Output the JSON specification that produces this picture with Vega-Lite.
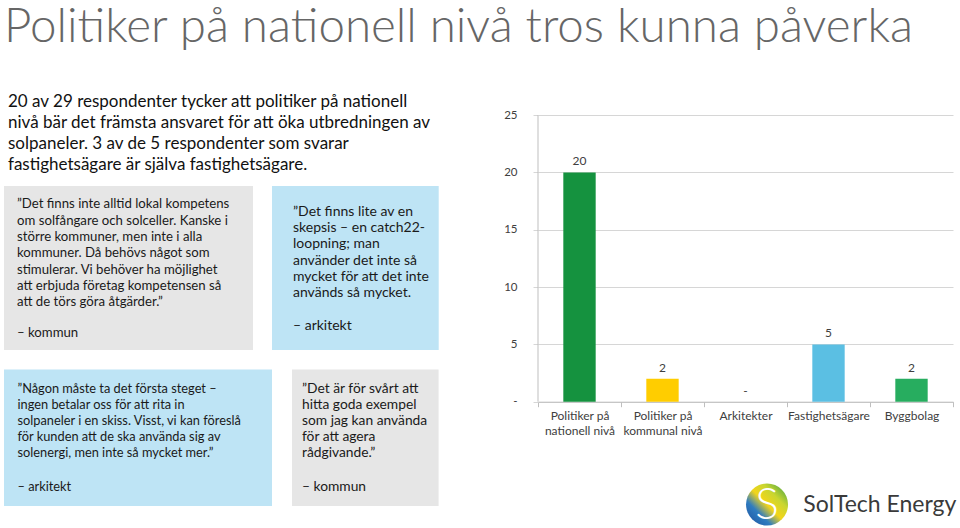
{
  "$schema": "https://vega.github.io/schema/vega-lite/v6.json",
  "padding": {"left": 4, "top": 4, "right": 0, "bottom": 0},
  "spacing": 63,
  "title": {"text": "Politiker på nationell nivå tros kunna påverka", "anchor": "start", "font": "Lato", "fontWeight": 300, "fontSize": 47.5, "color": "#666666", "offset": 41.5},
  "config": {"view": {"stroke": null}, "font": "Lato"},
  "datasets": {
    "texts": [
      {"id": "intro", "quote": "20 av 29 respondenter tycker att politiker på nationell\nnivå bär det främsta ansvaret för att öka utbredningen av\nsolpaneler. 3 av de 5 respondenter som svarar\nfastighetsägare är själva fastighetsägare.", "by": ""},
      {"id": "q1", "quote": "”Det finns inte alltid lokal kompetens\nom solfångare och solceller. Kanske i\nstörre kommuner, men inte i alla\nkommuner. Då behövs något som\nstimulerar. Vi behöver ha möjlighet\natt erbjuda företag kompetensen så\natt de törs göra åtgärder.”", "by": "– kommun"},
      {"id": "q2", "quote": "”Det finns lite av en\nskepsis – en catch22-\nloopning; man\nanvänder det inte så\nmycket för att det inte\nanvänds så mycket.", "by": "– arkitekt"},
      {"id": "q3", "quote": "”Någon måste ta det första steget –\ningen betalar oss för att rita in\nsolpaneler i en skiss. Visst, vi kan föreslå\nför kunden att de ska använda sig av\nsolenergi, men inte så mycket mer.”", "by": "– arkitekt"},
      {"id": "q4", "quote": "”Det är för svårt att\nhitta goda exempel\nsom jag kan använda\nför att agera\nrådgivande.”", "by": "– kommun"},
      {"id": "logo", "quote": "SolTech Energy", "by": ""}
    ],
    "bars": [
      {"cat": "Politiker på nationell nivå", "value": 20},
      {"cat": "Politiker på kommunal nivå", "value": 2},
      {"cat": "Arkitekter", "value": 0},
      {"cat": "Fastighetsägare", "value": 5},
      {"cat": "Byggbolag", "value": 2}
    ]
  },
  "hconcat": [
    {
      "spacing": 10.1,
      "vconcat": [
        {
          "width": 436, "height": 82,
          "data": {"name": "texts"},
          "transform": [{"filter": "datum.id === 'intro'"}],
          "mark": {"type": "text", "align": "left", "baseline": "alphabetic", "lineBreak": "\n", "fontSize": 17, "lineHeight": 21, "dx": 4, "dy": 13.4, "color": "#111111"},
          "encoding": {
            "x": {"datum": 0, "type": "quantitative", "scale": {"domain": [0, 1]}, "axis": null},
            "y": {"datum": 1, "type": "quantitative", "scale": {"domain": [0, 1]}, "axis": null},
            "text": {"field": "quote", "type": "nominal"}
          }
        },
        {
          "spacing": 19.3,
          "vconcat": [
            {
              "spacing": 19,
              "hconcat": [
                {
                  "width": 249, "height": 164,
                  "view": {"fill": "#e6e6e6", "stroke": null},
                  "data": {"name": "texts"},
                  "transform": [{"filter": "datum.id === 'q1'"}],
                  "encoding": {
                    "x": {"datum": 0, "type": "quantitative", "scale": {"domain": [0, 1]}, "axis": null},
                    "y": {"datum": 1, "type": "quantitative", "scale": {"domain": [0, 1]}, "axis": null}
                  },
                  "layer": [
                    {"mark": {"type": "text", "align": "left", "baseline": "alphabetic", "lineBreak": "\n", "fontSize": 13.2, "lineHeight": 16.3, "dx": 13, "dy": 22.3, "color": "#1a1a1a"},
                     "encoding": {"text": {"field": "quote", "type": "nominal"}}},
                    {"mark": {"type": "text", "align": "left", "baseline": "alphabetic", "fontSize": 13.2, "dx": 13, "dy": 150.5, "color": "#1a1a1a"},
                     "encoding": {"text": {"field": "by", "type": "nominal"}}}
                  ]
                },
                {
                  "width": 166.7, "height": 164,
                  "view": {"fill": "#bee4f5", "stroke": null},
                  "data": {"name": "texts"},
                  "transform": [{"filter": "datum.id === 'q2'"}],
                  "encoding": {
                    "x": {"datum": 0, "type": "quantitative", "scale": {"domain": [0, 1]}, "axis": null},
                    "y": {"datum": 1, "type": "quantitative", "scale": {"domain": [0, 1]}, "axis": null}
                  },
                  "layer": [
                    {"mark": {"type": "text", "align": "left", "baseline": "alphabetic", "lineBreak": "\n", "fontSize": 14, "lineHeight": 16.2, "dx": 21, "dy": 30, "color": "#1a1a1a"},
                     "encoding": {"text": {"field": "quote", "type": "nominal"}}},
                    {"mark": {"type": "text", "align": "left", "baseline": "alphabetic", "fontSize": 14, "dx": 21, "dy": 143.5, "color": "#1a1a1a"},
                     "encoding": {"text": {"field": "by", "type": "nominal"}}}
                  ]
                }
              ]
            },
            {
              "spacing": 20,
              "hconcat": [
                {
                  "width": 268, "height": 136.7,
                  "view": {"fill": "#bee4f5", "stroke": null},
                  "data": {"name": "texts"},
                  "transform": [{"filter": "datum.id === 'q3'"}],
                  "encoding": {
                    "x": {"datum": 0, "type": "quantitative", "scale": {"domain": [0, 1]}, "axis": null},
                    "y": {"datum": 1, "type": "quantitative", "scale": {"domain": [0, 1]}, "axis": null}
                  },
                  "layer": [
                    {"mark": {"type": "text", "align": "left", "baseline": "alphabetic", "lineBreak": "\n", "fontSize": 12.8, "lineHeight": 16.1, "dx": 13.5, "dy": 23.3, "color": "#1a1a1a"},
                     "encoding": {"text": {"field": "quote", "type": "nominal"}}},
                    {"mark": {"type": "text", "align": "left", "baseline": "alphabetic", "fontSize": 12.8, "dx": 13.5, "dy": 121.5, "color": "#1a1a1a"},
                     "encoding": {"text": {"field": "by", "type": "nominal"}}}
                  ]
                },
                {
                  "width": 146.6, "height": 136.7,
                  "view": {"fill": "#e6e6e6", "stroke": null},
                  "data": {"name": "texts"},
                  "transform": [{"filter": "datum.id === 'q4'"}],
                  "encoding": {
                    "x": {"datum": 0, "type": "quantitative", "scale": {"domain": [0, 1]}, "axis": null},
                    "y": {"datum": 1, "type": "quantitative", "scale": {"domain": [0, 1]}, "axis": null}
                  },
                  "layer": [
                    {"mark": {"type": "text", "align": "left", "baseline": "alphabetic", "lineBreak": "\n", "fontSize": 13.8, "lineHeight": 16.1, "dx": 10, "dy": 23.3, "color": "#1a1a1a"},
                     "encoding": {"text": {"field": "quote", "type": "nominal"}}},
                    {"mark": {"type": "text", "align": "left", "baseline": "alphabetic", "fontSize": 13.8, "dx": 10, "dy": 122, "color": "#1a1a1a"},
                     "encoding": {"text": {"field": "by", "type": "nominal"}}}
                  ]
                }
              ]
            }
          ]
        }
      ]
    },
    {
      "spacing": 46.5,
      "vconcat": [
        {
          "width": 415, "height": 307.7,
          "data": {"name": "bars"},
          "encoding": {
            "x": {
              "field": "cat", "type": "nominal",
              "scale": {"domain": ["Politiker på nationell nivå", "Politiker på kommunal nivå", "Arkitekter", "Fastighetsägare", "Byggbolag"], "paddingInner": 0, "paddingOuter": 0},
              "axis": {"title": null, "labelAngle": 0, "tickBand": "extent", "tickSize": 5, "tickColor": "#bfbfbf", "domainColor": "#bfbfbf", "labelFontSize": 12, "labelLineHeight": 15, "labelPadding": 4, "labelColor": "#404040", "grid": false,
                "labelExpr": "indexof(datum.label, 'Politiker på ') === 0 ? ['Politiker på', substring(datum.label, 13)] : datum.label"}
            }
          },
          "layer": [
            {
              "mark": {"type": "bar", "width": {"band": 0.39}},
              "encoding": {
                "y": {"field": "value", "type": "quantitative",
                  "scale": {"domain": [0, 26.84], "nice": false},
                  "axis": {"title": null, "values": [0, 5, 10, 15, 20, 25], "domain": false, "grid": true, "gridColor": "#d6d6d6", "tickColor": "#d6d6d6", "tickSize": 5, "labelPadding": 16, "labelFontSize": 11.5, "labelColor": "#404040",
                    "labelExpr": "datum.value === 0 ? '-' : datum.label"}},
                "color": {"field": "cat", "type": "nominal", "legend": null,
                  "scale": {"domain": ["Politiker på nationell nivå", "Politiker på kommunal nivå", "Arkitekter", "Fastighetsägare", "Byggbolag"], "range": ["#15923f", "#ffcd00", "#5bbfe3", "#5bbfe3", "#27ad5f"]}}
              }
            },
            {
              "mark": {"type": "text", "baseline": "bottom", "dy": -4, "fontSize": 12, "color": "#404040"},
              "encoding": {
                "y": {"field": "value", "type": "quantitative"},
                "text": {"condition": {"test": "datum.value === 0", "value": "-"}, "field": "value", "type": "quantitative"}
              }
            },
            {
              "data": {"values": [{"cat": "Politiker på nationell nivå"}]},
              "mark": {"type": "rule", "color": "#bfbfbf"},
              "encoding": {
                "x": {"field": "cat", "type": "nominal", "bandPosition": 0},
                "y": {"datum": 0, "type": "quantitative"},
                "y2": {"datum": 25}
              }
            }
          ]
        },
        {
          "width": 421, "height": 42,
          "data": {"name": "texts"},
          "transform": [{"filter": "datum.id === 'logo'"}],
          "encoding": {
            "y": {"datum": 0.5, "type": "quantitative", "scale": {"domain": [0, 1]}, "axis": null}
          },
          "layer": [
            {
              "mark": {"type": "point", "shape": "circle", "size": 1764, "filled": true, "opacity": 1, "strokeWidth": 0,
                "fill": {"gradient": "linear", "x1": 0, "y1": 1, "x2": 1, "y2": 0, "stops": [{"offset": 0, "color": "#1d4f9c"}, {"offset": 0.3, "color": "#2f7cc0"}, {"offset": 0.5, "color": "#f3d51a"}, {"offset": 0.7, "color": "#c9d630"}, {"offset": 1, "color": "#2f9a47"}]}},
              "encoding": {"x": {"datum": 0.544, "type": "quantitative", "scale": {"domain": [0, 1]}, "axis": null}}
            },
            {
              "mark": {"type": "text", "text": "S", "fontSize": 44, "fontWeight": 300, "color": "#ffffff", "baseline": "middle", "align": "center", "dy": 1},
              "encoding": {"x": {"datum": 0.544, "type": "quantitative"}}
            },
            {
              "mark": {"type": "text", "fontSize": 23, "color": "#3a3a3a", "baseline": "middle", "align": "center"},
              "encoding": {"x": {"datum": 0.812, "type": "quantitative"}, "text": {"field": "quote", "type": "nominal"}}
            }
          ]
        }
      ]
    }
  ]
}
